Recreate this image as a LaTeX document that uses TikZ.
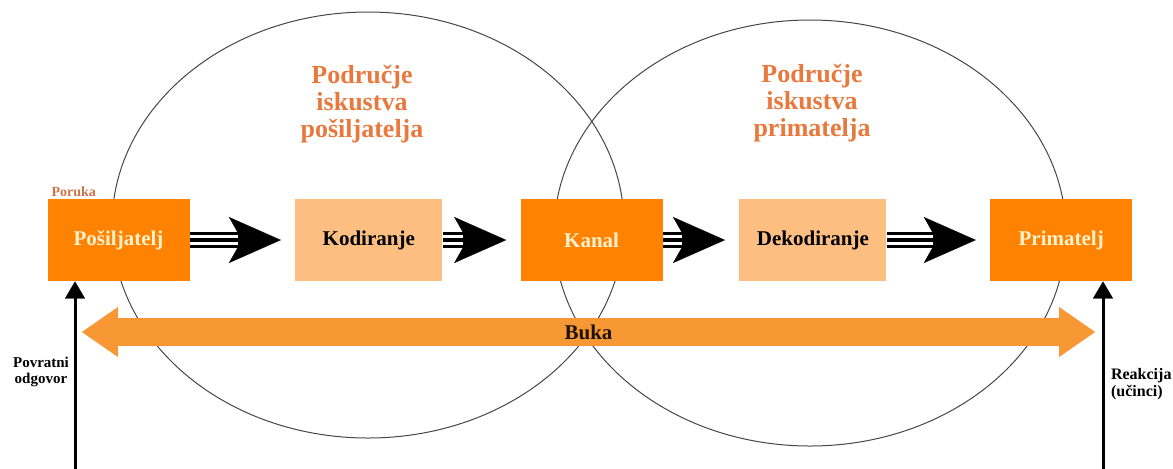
\documentclass[tikz,border=0pt]{standalone}
\usepackage{fontspec}
\setmainfont{Liberation Serif}
\usepackage{tikz}
\usetikzlibrary {arrows.meta,
                 positioning}
\definecolor{tamnonar}{RGB}{255,130,0}
\definecolor{svijetlonar}{RGB}{253,190,130}
\definecolor{bukanar}{RGB}{248,152,52}
\definecolor{naslovnar}{RGB}{232,120,60}
\definecolor{porukanar}{RGB}{205,115,70}
\definecolor{krem}{RGB}{255,242,205}
\definecolor{krug}{RGB}{70,70,70}
\tikzset{
        base/.style={align=center, minimum height=41pt,
                     font=\fontsize{10.5}{12}\selectfont\bfseries},
        tamni/.style={base, fill=tamnonar, text=krem, minimum width=71pt},
        svijetli/.style={base, fill=svijetlonar, text=black, minimum width=73.5pt},
        podrucje/.style={align=center, text=naslovnar,
                         font=\fontsize{13}{13.3}\selectfont\bfseries},
        oznaka/.style={font=\fontsize{8}{8.5}\selectfont\bfseries},
        krugstil/.style={draw=krug, line width=0.5pt},
        trostruka/.style={line width=8pt, shorten >=7pt,
                  -{Stealth[length=26pt, width=23pt, inset=6.5pt, line width=0.1pt]},
                  postaction={draw, -, white, line width=4.8pt, shorten >=28.5pt},
                  postaction={draw, -, black, line width=1.6pt, shorten >=28.5pt}},
        bukastil/.style={draw=bukanar, line width=14pt,
                  {Triangle[length=18pt, width=25pt, line width=0.1pt]}-{Triangle[length=18pt, width=25pt, line width=0.1pt]}},
        povratna/.style={line width=1.5pt,
                  -{Triangle[length=8.5pt, width=10pt, line width=0.1pt]}},
 }

\begin{document}
\begin{tikzpicture}[x=0.5pt, y=-0.5pt]
    \useasboundingbox (0,0) rectangle (1173,468);

    \draw[krugstil] (368,225) ellipse [x radius=128pt, y radius=106.5pt];
    \draw[krugstil] (810,233) ellipse [x radius=128pt, y radius=106.5pt];
    \node[podrucje] (iskustvoPos) at (362,104) {Područje\\iskustva\\pošiljatelja};
    \node[podrucje] (iskustvoPri) at (812,103) {Područje\\iskustva\\primatelja};

    \node[tamni] (posiljatelj) at (118.5,240) {Pošiljatelj};
    \node[svijetli, right=52.5pt of posiljatelj] (kodiranje) {Kodiranje};
    \node[tamni, right=38.75pt of kodiranje] (kanal) {Kanal};
    \node[svijetli, right=38pt of kanal] (dekodiranje) {Dekodiranje};
    \node[tamni, right=51.5pt of dekodiranje] (primatelj) {Primatelj};
    \node[above right=1pt and 2pt of posiljatelj.north west, inner sep=0pt,
          text=porukanar, font=\fontsize{7}{8}\selectfont\bfseries] (poruka) {Poruka};

    \draw[trostruka] (posiljatelj) -- (kodiranje);
    \draw[trostruka] (kodiranje) -- (kanal);
    \draw[trostruka] (kanal) -- (dekodiranje);
    \draw[trostruka] (dekodiranje) -- (primatelj);

    \coordinate (bukaL) at (82,332);
    \coordinate (bukaR) at (1095,332);
    \draw[bukastil] (bukaL) -- node[text=black!85!brown, font=\fontsize{10.5}{12}\selectfont\bfseries] (buka) {Buka} (bukaR);

    \coordinate (povratniDno) at (75,470);
    \coordinate (reakcijaDno) at (1103,470);
    \draw[povratna] (povratniDno) -- (povratniDno |- posiljatelj.south);
    \draw[povratna] (reakcijaDno) -- (reakcijaDno |- primatelj.south);
    \node[oznaka, align=center, font=\fontsize{7.5}{7.8}\selectfont\bfseries] (povratni) at (41,372) {Povratni\\odgovor};
    \node[oznaka, align=left, anchor=west] (reakcija) at (1104,384) {Reakcija\\(učinci)};
\end{tikzpicture}
\end{document}
